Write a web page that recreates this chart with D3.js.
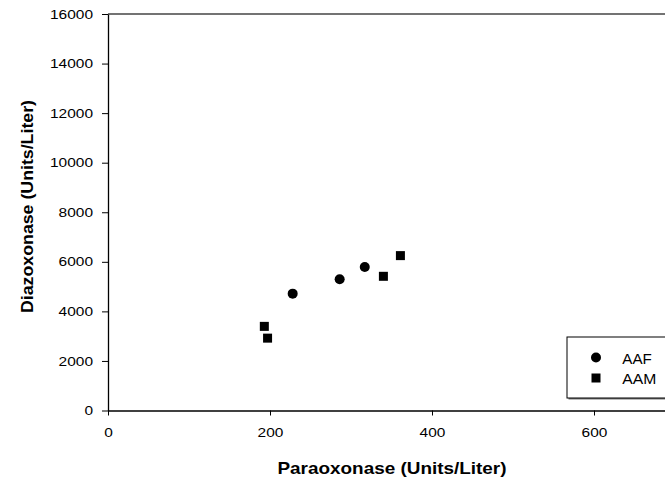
<!DOCTYPE html>
<meta charset="utf-8">
<style>
  body { margin: 0; background: #fff; }
  text { font-family: Arial, "Liberation Sans", sans-serif; fill: #000; }
  .title { font-size: 16.5px; font-weight: bold; }
</style>
<body>
<div id="chart"></div>
<script src="https://cdn.jsdelivr.net/npm/d3@7"></script>
<script>
// values
var afPara = [228, 286, 317];
var afDiaz = [4715, 5295, 5790];
var amPara = [193, 197, 340, 361];
var amDiaz = [3395, 2920, 5415, 6250];
var xTicks = [0, 200, 400, 600];
var yTicks = [0, 2000, 4000, 6000, 8000, 10000, 12000, 14000, 16000];

var width = 665, height = 482;
var margin = {left: 108, top: 14};

var svg = d3.select("#chart").append("svg")
    .attr("width", width)
    .attr("height", height);

var x = d3.scaleLinear()
    .domain([0, 700])
    .range([margin.left, margin.left + 567]);
var y = d3.scaleLinear()
    .domain([0, 16000])
    .range([410.5, margin.top]);

// frame
svg.append("line")
    .attr("x1", x(0)).attr("x2", x(700))
    .attr("y1", y(16000)).attr("y2", y(16000))
    .attr("stroke", "#444").attr("stroke-width", 1.5);
svg.append("line")
    .attr("x1", x(700)).attr("x2", x(700))
    .attr("y1", y(16000)).attr("y2", y(0))
    .attr("stroke", "#444").attr("stroke-width", 1.5);

var fmt = d3.format("d");
svg.append("g")
    .attr("transform", "translate(0," + y(0) + ")")
    .call(d3.axisBottom(x).tickValues(xTicks).tickFormat(fmt).tickSize(5).tickPadding(12).tickSizeOuter(0));
svg.append("g")
    .attr("transform", "translate(" + x(0) + ",0)")
    .call(d3.axisLeft(y).tickValues(yTicks).tickFormat(fmt).tickSize(6).tickPadding(9).tickSizeOuter(0));
svg.selectAll(".domain").attr("stroke", "#000").attr("stroke-width", 1.3);
svg.selectAll(".tick line").attr("stroke", "#000");
// the source font is wider than Arial, stretch a bit
svg.selectAll(".tick text")
    .attr("fill", "#000")
    .style("font-family", "Arial, 'Liberation Sans', sans-serif")
    .style("font-size", "13px")
    .attr("textLength", function (d) { return fmt(d).length * 8.6; })
    .attr("lengthAdjust", "spacingAndGlyphs");

// axis titles
svg.append("text")
    .attr("class", "title")
    .attr("x", 392)
    .attr("y", 474)
    .attr("text-anchor", "middle")
    .attr("textLength", 229)
    .attr("lengthAdjust", "spacingAndGlyphs")
    .text("Paraoxonase (Units/Liter)");
svg.append("text")
    .attr("class", "title")
    .attr("transform", "translate(33,206.5) rotate(-90)")
    .attr("text-anchor", "middle")
    .attr("textLength", 213)
    .attr("lengthAdjust", "spacingAndGlyphs")
    .text("Diazoxonase (Units/Liter)");

// points
svg.selectAll("circle.af")
    .data(afPara)
    .enter().append("circle")
    .attr("class", "af")
    .attr("cx", function (d) { return x(d); })
    .attr("cy", function (d, i) { return y(afDiaz[i]); })
    .attr("r", 5)
    .attr("fill", "#000");

var sq = 9;
svg.selectAll("rect.am")
    .data(amPara)
    .enter().append("rect")
    .attr("class", "am")
    .attr("x", function (d) { return x(d) - sq / 2; })
    .attr("y", function (d, i) { return y(amDiaz[i]) - sq / 2; })
    .attr("width", sq)
    .attr("height", sq)
    .attr("fill", "#000");

// legend
var lg = svg.append("g").attr("transform", "translate(567,337)");
lg.append("rect")
    .attr("x", 1.5).attr("y", 1.5)
    .attr("width", 130).attr("height", 61)
    .attr("fill", "#777");
lg.append("rect")
    .attr("width", 130).attr("height", 61)
    .attr("fill", "#fff").attr("stroke", "#000").attr("stroke-width", 1);
lg.append("circle")
    .attr("cx", 29).attr("cy", 20.5).attr("r", 5).attr("fill", "#000");
lg.append("rect")
    .attr("x", 29 - 4.5).attr("y", 36.5).attr("width", 9).attr("height", 9).attr("fill", "#000");
lg.append("text")
    .attr("x", 55.3).attr("y", 27)
    .style("font-size", "14px")
    .attr("textLength", 29.5).attr("lengthAdjust", "spacingAndGlyphs")
    .text("AAF");
lg.append("text")
    .attr("x", 55.3).attr("y", 46.5)
    .style("font-size", "14px")
    .attr("textLength", 34).attr("lengthAdjust", "spacingAndGlyphs")
    .text("AAM");
</script>
</body>
